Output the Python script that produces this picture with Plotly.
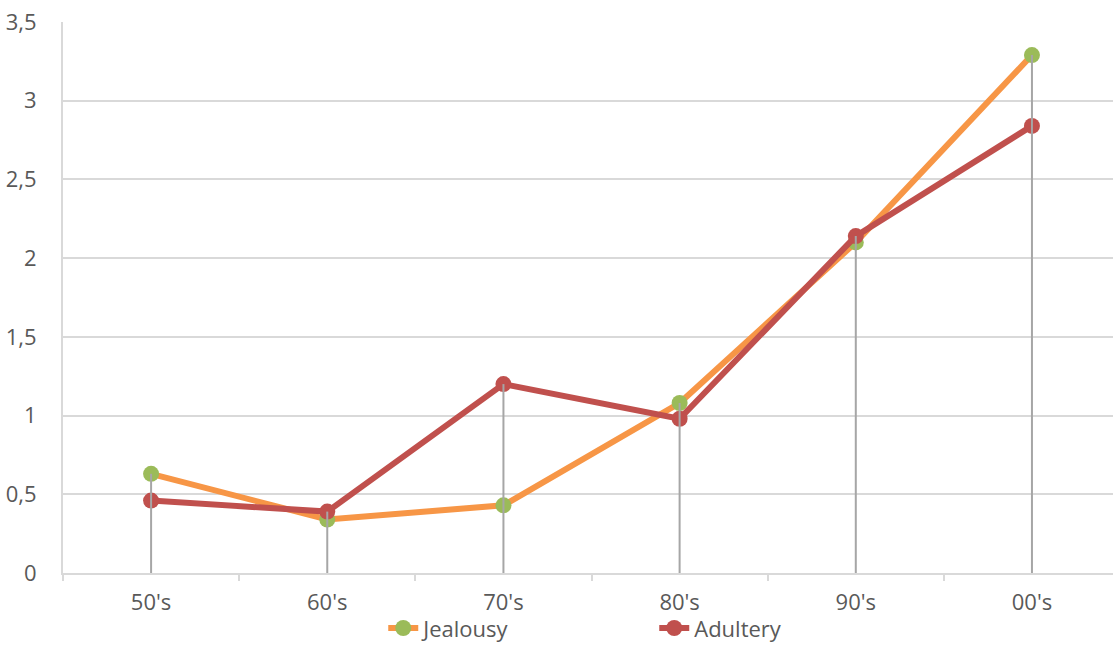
import plotly.graph_objects as go

decades = ["50's", "60's", "70's", "80's", "90's", "00's"]
jealousy = [0.63, 0.34, 0.43, 1.08, 2.10, 3.29]
adultery = [0.46, 0.39, 1.20, 0.98, 2.14, 2.84]

x_pos = list(range(len(decades)))

fig = go.Figure()

fig.add_trace(go.Scatter(
    x=x_pos, y=jealousy, name="Jealousy", mode="lines+markers",
    line=dict(color="#F79646", width=6),
    marker=dict(color="#9BBB59", size=16),
))
fig.add_trace(go.Scatter(
    x=x_pos, y=adultery, name="Adultery", mode="lines+markers",
    line=dict(color="#C0504D", width=6),
    marker=dict(color="#C0504D", size=16),
))

# High-value drop lines from each category's top point down to the axis
drop_x, drop_y = [], []
for i, (a, b) in enumerate(zip(jealousy, adultery)):
    drop_x += [i, i, None]
    drop_y += [0, max(a, b), None]
fig.add_trace(go.Scatter(
    x=drop_x, y=drop_y, mode="lines", showlegend=False, hoverinfo="skip",
    line=dict(color="#A6A6A6", width=2),
))

font = dict(family="Open Sans, sans-serif", size=22, color="#595959")

fig.update_layout(
    width=1113, height=645,
    margin=dict(l=63, r=0, t=22, b=72, autoexpand=False),
    plot_bgcolor="white", paper_bgcolor="white",
    separators=",.",
    font=font,
    showlegend=True,
    legend=dict(
        orientation="h", x=0.305, xanchor="left",
        y=0.026, yref="container", yanchor="middle",
        bgcolor="rgba(0,0,0,0)",
        font=font, entrywidth=226, entrywidthmode="pixels",
        itemclick=False,
    ),
    xaxis=dict(
        range=[-0.5, 5.46],
        tickvals=x_pos, ticktext=decades,
        showgrid=False, zeroline=False,
        showline=True, linecolor="#D9D9D9", linewidth=2,
        ticks="", ticklabelstandoff=9,
        minor=dict(ticks="outside", tick0=-0.5, dtick=1, ticklen=6,
                   tickcolor="#D9D9D9", tickwidth=1.5, showgrid=False),
        tickfont=font,
    ),
    yaxis=dict(
        range=[0, 3.5], dtick=0.5,
        showgrid=True, gridcolor="#D9D9D9", gridwidth=1.5,
        zeroline=False,
        showline=True, linecolor="#D9D9D9", linewidth=2,
        ticks="", ticklabelstandoff=20,
        tickfont=font,
    ),
)

fig.write_html("out.html")
